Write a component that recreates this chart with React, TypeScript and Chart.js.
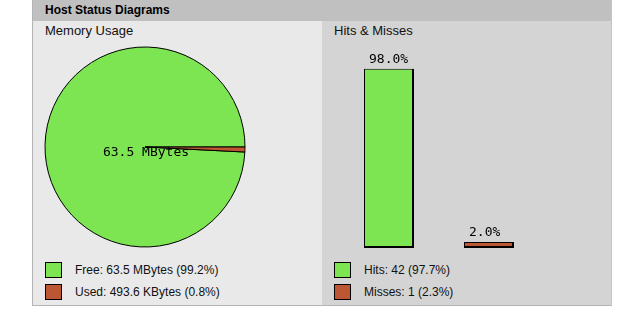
import React, { useEffect, useRef } from "react";
import { Chart, registerables } from "chart.js";

Chart.register(...registerables);

const pageTitle = "Host Status Diagrams";
const memoryTitle = "Memory Usage";
const memoryLabels = ["Free", "Used"];
const memoryValues = [99.2, 0.8];
const memoryCenterLabel = "63.5 MBytes";
const memoryLegend = ["Free: 63.5 MBytes (99.2%)", "Used: 493.6 KBytes (0.8%)"];

const hitsTitle = "Hits & Misses";
const hitLabels = ["Hits", "Misses"];
const hitValues = [98.0, 2.0];
const hitValueLabels = ["98.0%", "2.0%"];
const hitLegend = ["Hits: 42 (97.7%)", "Misses: 1 (2.3%)"];

const sliceColors = ["#7de552", "#bd5632"];

const MONO = '13px "DejaVu Sans Mono", monospace';
const SANS = '"Liberation Sans", Arial, Helvetica, sans-serif';

function PieChart() {
  const ref = useRef<HTMLCanvasElement | null>(null);
  useEffect(() => {
    if (!ref.current) return;
    const total = memoryValues.reduce((a, b) => a + b, 0);
    const lastShare = memoryValues[memoryValues.length - 1] / total;
    const centerText = {
      id: "centerText",
      afterDatasetsDraw(chart: any) {
        const meta = chart.getDatasetMeta(0);
        const arc = meta.data[0];
        if (!arc) return;
        const ctx = chart.ctx;
        ctx.save();
        ctx.font = MONO;
        ctx.fillStyle = "#000";
        ctx.textAlign = "center";
        ctx.textBaseline = "middle";
        ctx.fillText(memoryCenterLabel, arc.x + 1, arc.y + 6);
        ctx.restore();
      },
    };
    const chart = new Chart(ref.current, {
      type: "pie",
      data: {
        labels: memoryLabels,
        datasets: [
          {
            data: memoryValues,
            backgroundColor: sliceColors,
            borderColor: "#000",
            borderWidth: 1,
            radius: 100,
          } as any,
        ],
      },
      options: {
        animation: false,
        responsive: false,
        devicePixelRatio: 1,
        rotation: 90 + 360 * lastShare,
        layout: { padding: 0 },
        plugins: { legend: { display: false }, tooltip: { enabled: false } },
      },
      plugins: [centerText],
    });
    return () => chart.destroy();
  }, []);
  return (
    <canvas
      ref={ref}
      width={210}
      height={210}
      style={{ position: "absolute", left: 40, top: 42, width: 210, height: 210 }}
    />
  );
}

function BarChart() {
  const ref = useRef<HTMLCanvasElement | null>(null);
  useEffect(() => {
    if (!ref.current) return;
    const barText = {
      id: "barText",
      afterDatasetsDraw(chart: any) {
        const meta = chart.getDatasetMeta(0);
        const ctx = chart.ctx;
        ctx.save();
        ctx.font = MONO;
        ctx.fillStyle = "#000";
        ctx.textAlign = "left";
        ctx.textBaseline = "middle";
        meta.data.forEach((bar: any, i: number) => {
          ctx.fillText(hitValueLabels[i], bar.x - bar.width / 2 + 5, bar.y - 9);
        });
        ctx.restore();
      },
    };
    const chart = new Chart(ref.current, {
      type: "bar",
      data: {
        labels: hitLabels,
        datasets: [
          {
            data: hitValues,
            backgroundColor: sliceColors,
            borderColor: "#000",
            borderWidth: { top: 1, left: 1, right: 2, bottom: 2 },
            borderSkipped: false,
            barPercentage: 0.5,
            categoryPercentage: 1,
            minBarLength: 6,
          } as any,
        ],
      },
      options: {
        animation: false,
        responsive: false,
        devicePixelRatio: 1,
        layout: { padding: { top: 20, left: 0, right: 0, bottom: 0 } },
        scales: {
          x: { display: false },
          y: { display: false, min: 0, max: 100 },
        },
        plugins: { legend: { display: false }, tooltip: { enabled: false } },
      },
      plugins: [barText],
    });
    return () => chart.destroy();
  }, []);
  return (
    <canvas
      ref={ref}
      width={200}
      height={203}
      style={{ position: "absolute", left: 339, top: 45, width: 200, height: 203 }}
    />
  );
}

function Legend({ left, items }: { left: number; items: string[] }) {
  return (
    <>
      {items.map((t, i) => (
        <React.Fragment key={t}>
          <div
            style={{
              position: "absolute",
              left,
              top: 262 + i * 22,
              width: 17,
              height: 16,
              boxSizing: "border-box",
              border: "1px solid #000",
              background: sliceColors[i],
            }}
          />
          <div
            style={{
              position: "absolute",
              left: left + 30,
              top: 262 + i * 22,
              height: 16,
              lineHeight: "16px",
              fontSize: 12,
              fontFamily: SANS,
              color: "#111",
              whiteSpace: "nowrap",
            }}
          >
            {t}
          </div>
        </React.Fragment>
      ))}
    </>
  );
}

export default function App() {
  return (
    <div
      style={{
        position: "absolute",
        left: 0,
        top: 0,
        width: 641,
        height: 314,
        background: "#fff",
        overflow: "hidden",
        fontFamily: SANS,
      }}
    >
      <div
        style={{
          position: "absolute",
          left: 32,
          top: 0,
          width: 580,
          height: 306,
          boxSizing: "border-box",
          borderLeft: "1px solid #b4b4b4",
          borderRight: "1px solid #c4c4c4",
          borderBottom: "1px solid #b4b4b4",
        }}
      />
      <div
        style={{
          position: "absolute",
          left: 33,
          top: 0,
          width: 578,
          height: 21,
          background: "#c0c0c0",
        }}
      />
      <div
        style={{
          position: "absolute",
          left: 45,
          top: 0,
          height: 21,
          lineHeight: "21px",
          fontSize: 12,
          fontWeight: "bold",
          color: "#000",
          whiteSpace: "nowrap",
        }}
      >
        {pageTitle}
      </div>
      <div
        style={{
          position: "absolute",
          left: 33,
          top: 21,
          width: 289,
          height: 284,
          background: "#e9e9e9",
        }}
      />
      <div
        style={{
          position: "absolute",
          left: 322,
          top: 21,
          width: 289,
          height: 284,
          background: "#d4d4d4",
        }}
      />
      <div
        style={{
          position: "absolute",
          left: 45,
          top: 23,
          lineHeight: "16px",
          fontSize: 13,
          color: "#111",
          whiteSpace: "nowrap",
        }}
      >
        {memoryTitle}
      </div>
      <div
        style={{
          position: "absolute",
          left: 334,
          top: 23,
          lineHeight: "16px",
          fontSize: 13,
          color: "#111",
          whiteSpace: "nowrap",
        }}
      >
        {hitsTitle}
      </div>
      <PieChart />
      <BarChart />
      <Legend left={45} items={memoryLegend} />
      <Legend left={334} items={hitLegend} />
    </div>
  );
}
